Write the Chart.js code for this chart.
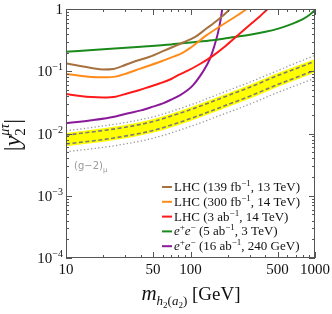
<!DOCTYPE html>
<html><head><meta charset="utf-8">
<script src="https://cdn.jsdelivr.net/npm/chart.js@4/dist/chart.umd.min.js"></script>
<style>html,body{margin:0;padding:0;background:#fff;}canvas{display:block;}</style>
</head><body>
<canvas id="c" width="332" height="314"></canvas>
<script>
// ---- data ----
const legendParts = [
  [['LHC (139 fb','r'],['−1','sup'],[', 13 TeV)','r']],
  [['LHC (300 fb','r'],['−1','sup'],[', 14 TeV)','r']],
  [['LHC (3 ab','r'],['−1','sup'],[', 14 TeV)','r']],
  [['e','i'],['+','sup'],['e','i'],['−','sup'],[' (5 ab','r'],['−1','sup'],[', 3 TeV)','r']],
  [['e','i'],['+','sup'],['e','i'],['−','sup'],[' (16 ab','r'],['−1','sup'],[', 240 GeV)','r']]
];
const seriesColors = ['#a6713e', '#ff8c1a', '#ff1a1a', '#1a8a1a', '#8a1a99'];

const massLHC139 = [10,13,16,20,24,28,35,47,60,87,110,135,155,178,200,215];
const yLHC139    = [0.134,0.121,0.113,0.107,0.109,0.12,0.142,0.171,0.21,0.29,0.36,0.49,0.60,0.75,0.93,1.08];
const massLHC300 = [10,13,16,20,25,31,39,57,75,87,99,135,189,240,283,300];
const yLHC300    = [0.090,0.085,0.081,0.080,0.082,0.093,0.109,0.142,0.175,0.20,0.235,0.38,0.59,0.80,1.0,1.1];
const massLHC3ab = [10,13,16,20,25,31,39,47,57,70,82,95,120,150,189,240,310,360,417,450];
const yLHC3ab    = [0.043,0.040,0.0385,0.038,0.039,0.044,0.050,0.0565,0.064,0.075,0.089,0.102,0.132,0.175,0.25,0.38,0.59,0.76,1.0,1.12];
const massEE3TeV = [10,20,40,70,100,150,200,300,400,500,600,700,800,900,1000];
const yEE3TeV    = [0.206,0.225,0.248,0.27,0.29,0.315,0.342,0.385,0.43,0.48,0.54,0.61,0.69,0.80,0.96];
const massEE240  = [10,16,25,31,40,50,60,70,82,95,105,120,135,144,155,166,174,180,184];
const yEE240     = [0.0146,0.0163,0.0188,0.021,0.0235,0.027,0.0305,0.035,0.041,0.050,0.060,0.085,0.125,0.163,0.25,0.41,0.65,1.0,1.35];

const massG2   = [10,20,30,50,100,200,300,500,700,1000];
const g2Up1    = [0.0094,0.0112,0.0126,0.0156,0.0242,0.0407,0.0555,0.085,0.110,0.1445];
const g2Low1   = [0.0068,0.0080,0.0091,0.0112,0.0174,0.0292,0.0398,0.061,0.079,0.104];
const g2Up2    = [0.0110,0.0133,0.0150,0.0185,0.0288,0.049,0.067,0.102,0.135,0.18];
const g2Low2   = [0.0051,0.0060,0.0068,0.0084,0.0130,0.0218,0.0297,0.0455,0.059,0.0775];

const xTickValues = [10,50,100,500,1000];
const xTickLabels = ['10','50','100','500','1000'];
const yTickValues = [1,0.1,0.01,0.001,0.0001];
const yTickBase   = ['1','10','10','10','10'];
const yTickExp    = ['','−1','−2','−3','−4'];

// ---- build ----
const pts = (xs, ys) => xs.map((x, i) => ({x, y: ys[i]}));
const curve = (xs, ys, color) => ({data: pts(xs, ys), borderColor: color, borderWidth: 2,
  pointRadius: 0, fill: false, cubicInterpolationMode: 'monotone', clip: 0});

const datasets = [
  curve(massLHC139, yLHC139, seriesColors[0]),
  curve(massLHC300, yLHC300, seriesColors[1]),
  curve(massLHC3ab, yLHC3ab, seriesColors[2]),
  curve(massEE3TeV, yEE3TeV, seriesColors[3]),
  curve(massEE240, yEE240, seriesColors[4]),
  Object.assign(curve(massG2, g2Up1, '#7a7a7a'), {borderWidth: 1.6, borderDash: [4, 2.5]}),
  Object.assign(curve(massG2, g2Low1, '#7a7a7a'), {borderWidth: 1.6, borderDash: [4, 2.5]}),
  Object.assign(curve(massG2, g2Up1, '#ffff00'), {borderWidth: 4.5, fill: {target: 8}, backgroundColor: '#ffff00'}),
  Object.assign(curve(massG2, g2Low1, '#ffff00'), {borderWidth: 4.5}),
  Object.assign(curve(massG2, g2Up2, '#9a9a9a'), {borderWidth: 1.3, borderDash: [1.3, 2.3]}),
  Object.assign(curve(massG2, g2Low2, '#9a9a9a'), {borderWidth: 1.3, borderDash: [1.3, 2.3]})
];

function drawRich(ctx, segs, x, y, align) {
  let w = 0; const widths = [];
  segs.forEach((s, i) => { ctx.font = s[1]; const m = ctx.measureText(s[0]).width; widths.push(m);
    if (s[3]) { w += Math.max(0, m - widths[i-1]); } else w += m; });
  let cx = align === 'center' ? x - w/2 : (align === 'right' ? x - w : x);
  let prevStart = cx;
  segs.forEach((s, i) => {
    ctx.font = s[1];
    if (s[3]) { ctx.fillText(s[0], prevStart, y + s[2]); cx = prevStart + Math.max(widths[i], widths[i-1]); }
    else { prevStart = cx; ctx.fillText(s[0], cx, y + s[2]); cx += widths[i]; }
  });
  return w;
}

const SERIF = '"Liberation Serif", "DejaVu Serif", serif';

const decor = {
  id: 'decor',
  afterDatasetsDraw(chart) {
    const {ctx, chartArea: a, scales: {x, y}} = chart;
    ctx.save();
    ctx.strokeStyle = '#555'; ctx.lineWidth = 1;
    ctx.strokeRect(a.left + 0.5, a.top + 0.5, a.right - a.left - 1, a.bottom - a.top - 1);
    ctx.beginPath();
    for (let e = -4; e <= 0; e++) {
      for (let k = 1; k <= 9; k++) {
        const v = k * Math.pow(10, e);
        if (v > 1.0000001) break;
        const py = Math.round(y.getPixelForValue(v)) + 0.5;
        const len = k === 1 ? 6 : 3;
        ctx.moveTo(a.left, py); ctx.lineTo(a.left + len, py);
        ctx.moveTo(a.right, py); ctx.lineTo(a.right - len, py);
      }
    }
    for (let e = 1; e <= 3; e++) {
      for (let k = 1; k <= 9; k++) {
        const v = k * Math.pow(10, e);
        if (v > 1000.0001) break;
        const px = Math.round(x.getPixelForValue(v)) + 0.5;
        const len = (k === 1 || k === 5) ? 6 : 3;
        ctx.moveTo(px, a.bottom); ctx.lineTo(px, a.bottom - len);
        ctx.moveTo(px, a.top); ctx.lineTo(px, a.top + len);
      }
    }
    ctx.stroke();
    ctx.fillStyle = '#111'; ctx.textBaseline = 'alphabetic';
    xTickValues.forEach((v, i) => {
      ctx.font = '15px ' + SERIF; ctx.textAlign = 'center';
      ctx.fillText(xTickLabels[i], x.getPixelForValue(v), a.bottom + 16);
    });
    ctx.textAlign = 'left';
    yTickValues.forEach((v, i) => {
      const py = y.getPixelForValue(v);
      const segs = [[yTickBase[i], '15px ' + SERIF, 0]];
      if (yTickExp[i]) segs.push([yTickExp[i], '10px ' + SERIF, -6]);
      drawRich(ctx, segs, a.left - 3, py + 5, 'right');
    });
    drawRich(ctx, [
      ['m', 'italic 21px ' + SERIF, 0],
      ['h', 'italic 13px ' + SERIF, 5],
      ['2', '9px ' + SERIF, 8],
      ['(', '13px ' + SERIF, 5],
      ['a', 'italic 13px ' + SERIF, 5],
      ['2', '9px ' + SERIF, 8],
      [')', '13px ' + SERIF, 5],
      [' [GeV]', '19px ' + SERIF, 0]
    ], 191, 300, 'center');
    ctx.save();
    ctx.translate(20, 135); ctx.rotate(-Math.PI / 2);
    drawRich(ctx, [
      ['|', '24px ' + SERIF, 0],
      ['y', 'italic 24px ' + SERIF, 0],
      ['2', '15px ' + SERIF, 5],
      ['μτ', 'italic 14px ' + SERIF, -11, true],
      ['|', '24px ' + SERIF, 0]
    ], 0, 0, 'center');
    ctx.restore();
    ctx.fillStyle = '#9a9a9a';
    drawRich(ctx, [['(g−2)', '10px "DejaVu Sans", sans-serif', 0], ['μ', '7px "DejaVu Sans", sans-serif', 3]], 74, 169, 'left');
    ctx.fillStyle = '#111';
    legendParts.forEach((parts, i) => {
      const ly = 187 + i * 14.8;
      ctx.strokeStyle = seriesColors[i]; ctx.lineWidth = 2; ctx.setLineDash([]);
      ctx.beginPath(); ctx.moveTo(162, ly); ctx.lineTo(172, ly); ctx.stroke();
      const segs = parts.map(p => p[1] === 'sup' ? [p[0], '9px ' + SERIF, -5]
        : [p[0], (p[1] === 'i' ? 'italic ' : '') + '13px ' + SERIF, 0]);
      drawRich(ctx, segs, 174, ly + 4, 'left');
    });
    ctx.restore();
  }
};

new Chart(document.getElementById('c'), {
  type: 'line',
  data: {datasets},
  options: {
    responsive: false, animation: false, devicePixelRatio: 1,
    layout: {padding: {left: 0, right: 17, top: 9, bottom: 0}},
    plugins: {legend: {display: false}, tooltip: {enabled: false}, filler: {propagate: false}},
    scales: {
      x: {type: 'logarithmic', min: 10, max: 1000, grid: {display: false}, border: {display: false},
          ticks: {display: false}, afterFit: s => { s.height = 56; }},
      y: {type: 'logarithmic', min: 0.0001, max: 1, grid: {display: false}, border: {display: false},
          ticks: {display: false}, afterFit: s => { s.width = 66; }}
    }
  },
  plugins: [decor]
});
</script>
</body></html>
